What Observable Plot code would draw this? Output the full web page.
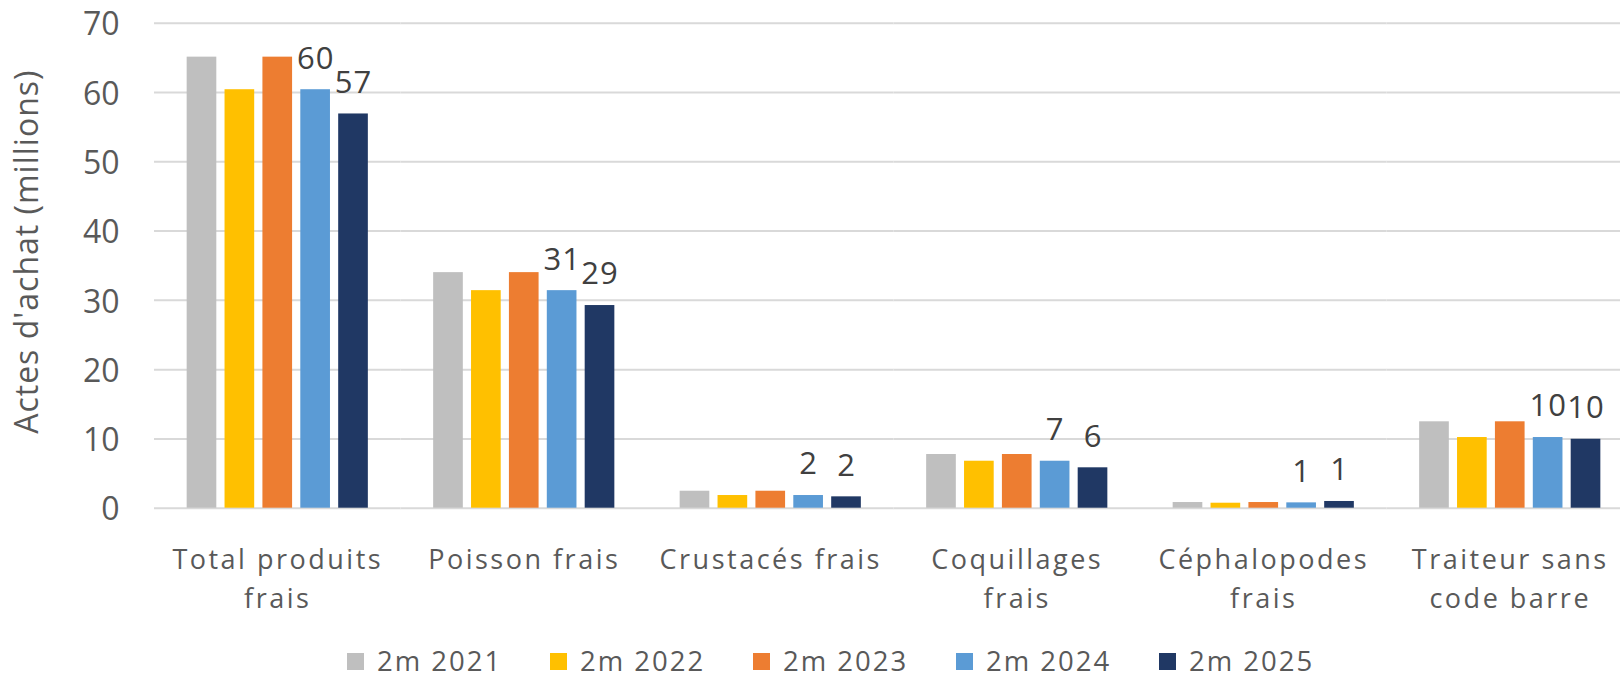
<!DOCTYPE html>
<html>
<head>
<meta charset="utf-8">
<script src="https://cdn.jsdelivr.net/npm/d3@7"></script>
<script src="https://cdn.jsdelivr.net/npm/@observablehq/plot@0.6"></script>
<style>
  html, body { margin: 0; padding: 0; background: #fff; }
  #wrap { position: relative; width: 1620px; height: 680px; overflow: hidden; font-family: "Open Sans", sans-serif; }
  #chart svg text { letter-spacing: 1px; }
  #chart g[aria-label="fx-axis tick label"] text { letter-spacing: 2.5px; }
  #chart g[aria-label="y-axis tick label"] text { letter-spacing: 0; }
  #legend { position: absolute; left: 347px; top: 646px; height: 30px; display: flex; }
  .item { width: 203px; display: flex; align-items: center; height: 30px; }
  .sw { width: 17px; height: 17px; margin-right: 13px; flex: none; }
  .lab { font-size: 27.5px; color: #595959; letter-spacing: 2px; line-height: 30px; white-space: nowrap; }
</style>
</head>
<body>
<div id="wrap">
  <div id="chart"></div>
  <div id="legend"></div>
</div>
<script>
const categories = ["Total produits frais", "Poisson frais", "Crustacés frais", "Coquillages frais", "Céphalopodes frais", "Traiteur sans code barre"];
const categoryLabels = ["Total produits\nfrais", "Poisson frais", "Crustacés frais", "Coquillages\nfrais", "Céphalopodes\nfrais", "Traiteur sans\ncode barre"];
const years = ["2m 2021", "2m 2022", "2m 2023", "2m 2024", "2m 2025"];
const colors = ["#BFBFBF", "#FFC000", "#ED7D31", "#5B9BD5", "#203864"];

const v2021 = [65.1, 34.0, 2.45, 7.75, 0.82, 12.47];
const v2022 = [60.4, 31.4, 1.83, 6.78, 0.72, 10.2];
const v2023 = [65.1, 34.0, 2.45, 7.75, 0.82, 12.47];
const v2024 = [60.4, 31.4, 1.83, 6.78, 0.77, 10.2];
const v2025 = [56.9, 29.25, 1.64, 5.83, 0.97, 9.95];

const labelledYears = ["2m 2024", "2m 2025"];
const yTicks = [0, 10, 20, 30, 40, 50, 60, 70];
const yTitle = "Actes d'achat (millions)";

const series = [v2021, v2022, v2023, v2024, v2025];
const data = [];
years.forEach((yr, j) => {
  categories.forEach((cat, i) => {
    data.push({category: cat, year: yr, value: series[j][i]});
  });
});

const chart = Plot.plot({
  width: 1620,
  height: 640,
  marginLeft: 154,
  marginRight: 0,
  marginTop: 22.7,
  marginBottom: 132.3,
  style: {fontFamily: "'Open Sans', sans-serif", color: "#595959", background: "#fff"},
  fx: {domain: categories, range: [154, 1633], padding: 0, round: false},
  x: {domain: years, paddingInner: 0.217, paddingOuter: 0.862, round: false, axis: null},
  y: {domain: [0, 70]},
  color: {domain: years, range: colors},
  marks: [
    Plot.ruleY(yTicks, {stroke: "#D9D9D9", strokeWidth: 2}),
    Plot.barY(data, {fx: "category", x: "year", y: "value", fill: "year"}),
    Plot.text(data.filter(d => labelledYears.includes(d.year)), {
      fx: "category", x: "year", y: "value",
      text: d => String(Math.round(d.value)),
      dy: -31, fontSize: 31, fill: "#404040"
    }),
    Plot.axisY({ticks: yTicks, tickSize: 0, tickPadding: 35, fontSize: 32, dy: 2, label: null}),
    Plot.axisFx({
      anchor: "bottom", tickSize: 0, tickPadding: 33, fontSize: 27, lineHeight: 1.45,
      tickFormat: d => categoryLabels[categories.indexOf(d)], label: null
    }),
    Plot.text([yTitle], {
      frameAnchor: "left", textAnchor: "middle", lineAnchor: "middle", rotate: -90,
      dx: -127, dy: -14, fontSize: 32, fill: "#595959", facet: "super"
    })
  ]
});
document.getElementById("chart").appendChild(chart);

const legend = document.getElementById("legend");
years.forEach((yr, j) => {
  const item = document.createElement("div");
  item.className = "item";
  const sw = document.createElement("div");
  sw.className = "sw";
  sw.style.background = colors[j];
  const lab = document.createElement("span");
  lab.className = "lab";
  lab.textContent = yr;
  item.appendChild(sw);
  item.appendChild(lab);
  legend.appendChild(item);
});
</script>
</body>
</html>
